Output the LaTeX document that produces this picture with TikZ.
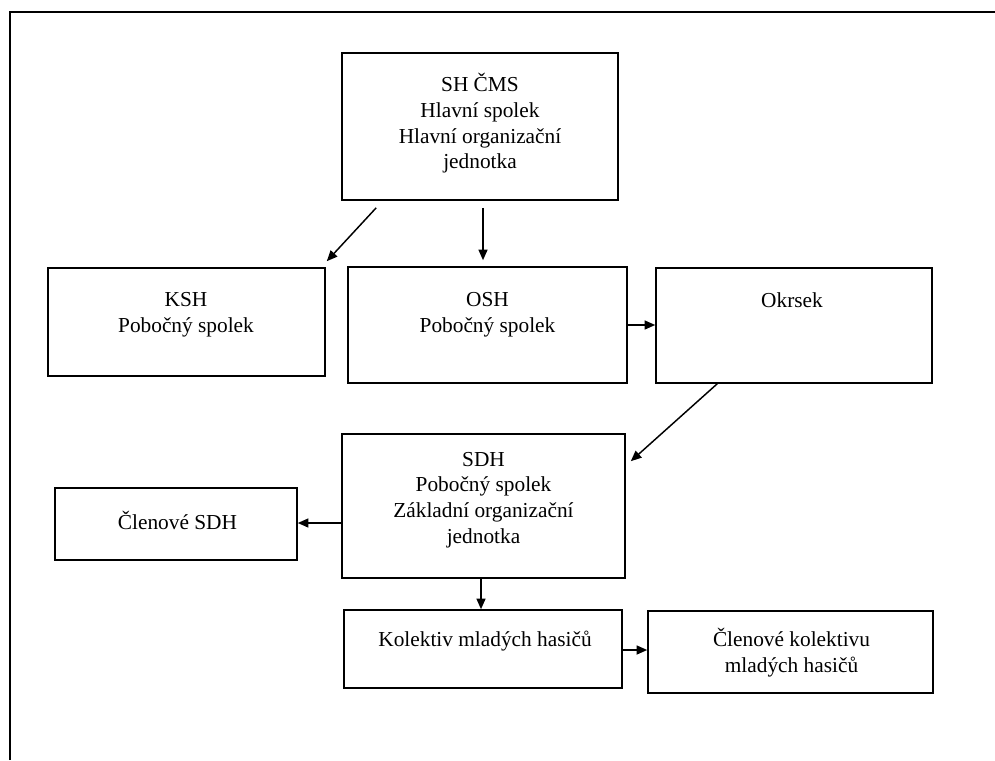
\documentclass[tikz,border=0pt]{standalone}
\usepackage{fontspec}
\setmainfont{Liberation Serif}
\usetikzlibrary{arrows.meta,calc}
\newcommand\orgbox[5]{\node[orgrect, minimum width=#4*0.75pt, minimum height=#5*0.75pt] (#1) at (#2,#3) {};}
\begin{document}
\begin{tikzpicture}[x=0.75pt,y=-0.75pt,
  orgrect/.style={draw, line width=1.2pt, inner sep=0pt, fill=white},
  orgtext/.style={align=center, inner sep=0pt, font=\fontsize{16pt}{19.2pt}\selectfont},
  orgarrow/.style={-{Triangle[length=8pt,width=6.8pt]}, line width=1.1pt}]
\useasboundingbox (0,0) rectangle (995,760);
% frame
\coordinate (fbl) at (10,760);
\coordinate (ftl) at (10,12);
\coordinate (ftr) at (995,12);
\draw[line width=1.7pt] (fbl) -- (ftl) -- (ftr);
% boxes
\orgbox{top}{480}{126.5}{276}{147}
\orgbox{ksh}{186.5}{322}{277}{108}
\orgbox{osh}{487.5}{325}{279}{116}
\orgbox{okr}{794}{325.5}{276}{115}
\orgbox{sdh}{483.5}{506}{283}{144}
\orgbox{csdh}{176}{524}{242}{72}
\orgbox{kol}{483}{649}{278}{78}
\orgbox{ckol}{790.5}{652}{285}{82}
% texts
\node[orgtext] (ttop) at (480,123.5) {SH ČMS\\Hlavní spolek\\Hlavní organizační\\jednotka};
\node[orgtext] (tksh) at (186,314.5) {KSH\\Pobočný spolek};
\node[orgtext] (tosh) at (487.5,314.5) {OSH\\Pobočný spolek};
\node[orgtext] (tokr) at (792,300) {Okrsek};
\node[orgtext] (tsdh) at (483.5,500) {SDH\\Pobočný spolek\\Základní organizační\\jednotka};
\node[orgtext] (tcsdh) at (177.5,520) {Členové SDH};
\node[orgtext] (tkol) at (485,641) {Kolektiv mladých hasičů};
\node[orgtext] (tckol) at (791.5,652.5) {Členové kolektivu\\mladých hasičů};
% arrow end points
\coordinate (a1s) at ($(top.south west)+(35,7)$);
\coordinate (a1e) at ($(ksh.north east)+(1,-6)$);
\coordinate (a2s) at ($(top.south)+(3,7)$);
\coordinate (a2e) at ($(osh.north)+(-4.5,-6)$);
\coordinate (a3s) at (osh.east);
\coordinate (a4s) at ($(okr.south west)+(62,0)$);
\coordinate (a4e) at ($(sdh.north east)+(5,28)$);
\coordinate (a5s) at ($(sdh.west)+(0,17)$);
\coordinate (a6s) at ($(sdh.south)+(-2.5,0)$);
\coordinate (a7s) at ($(kol.east)+(0,1)$);
% arrows
\draw[orgarrow] (a1s) -- (a1e);
\draw[orgarrow] (a2s) -- (a2e);
\draw[orgarrow] (a3s) -- (a3s -| okr.west);
\draw[orgarrow] (a4s) -- (a4e);
\draw[orgarrow] (a5s) -- (a5s -| csdh.east);
\draw[orgarrow] (a6s) -- (a6s |- kol.north);
\draw[orgarrow] (a7s) -- (a7s -| ckol.west);
\end{tikzpicture}
\end{document}
